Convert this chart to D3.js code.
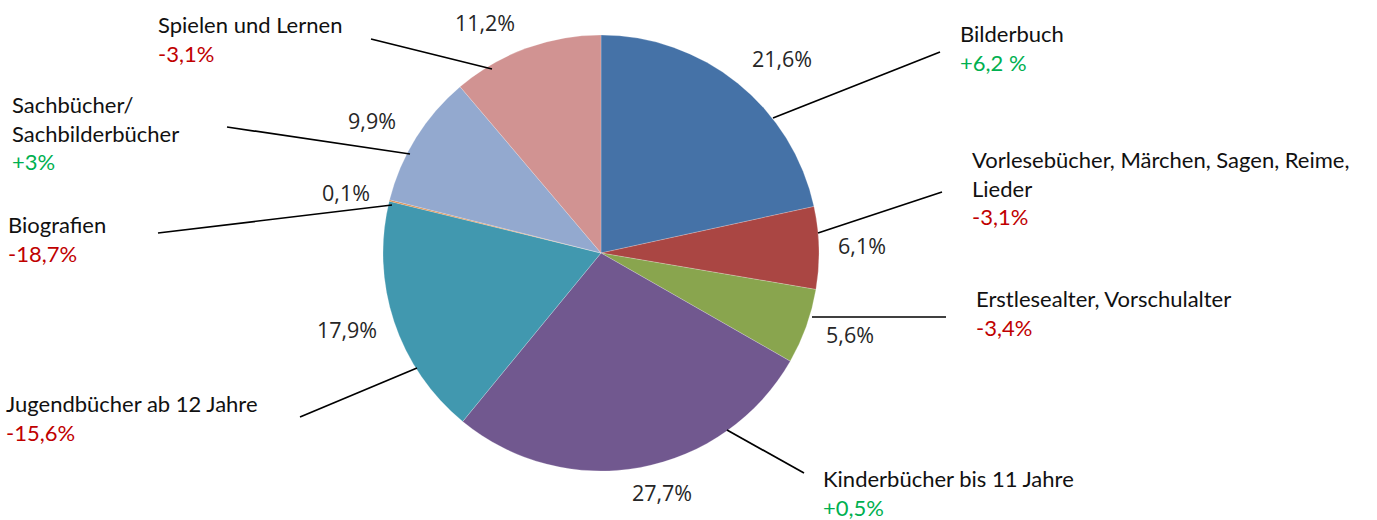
<!DOCTYPE html>
<html>
<head>
<meta charset="utf-8">
<script src="https://cdn.jsdelivr.net/npm/d3@7"></script>
<style>
  body { margin: 0; background: #fff; }
  svg text { font-family: Lato, "Noto Sans", sans-serif; }
</style>
</head>
<body>
<div id="chart"></div>
<script>
// data
const categories = ["Bilderbuch", "Vorlesebücher, Märchen, Sagen, Reime, Lieder", "Erstlesealter, Vorschulalter",
  "Kinderbücher bis 11 Jahre", "Jugendbücher ab 12 Jahre", "Biografien", "Sachbücher/ Sachbilderbücher", "Spielen und Lernen"];
const shares = [21.6, 6.1, 5.6, 27.7, 17.9, 0.1, 9.9, 11.2];
const shareLabels = ["21,6%", "6,1%", "5,6%", "27,7%", "17,9%", "0,1%", "9,9%", "11,2%"];
const changes = [6.2, -3.1, -3.4, 0.5, -15.6, -18.7, 3, -3.1];
const changeLabels = ["+6,2 %", "-3,1%", "-3,4%", "+0,5%", "-15,6%", "-18,7%", "+3%", "-3,1%"];
const nameLines = [["Bilderbuch"], ["Vorlesebücher, Märchen, Sagen, Reime,", "Lieder"], ["Erstlesealter, Vorschulalter"],
  ["Kinderbücher bis 11 Jahre"], ["Jugendbücher ab 12 Jahre"], ["Biografien"], ["Sachbücher/", "Sachbilderbücher"], ["Spielen und Lernen"]];
const colors = ["#4572A7", "#AA4643", "#89A54E", "#71588F", "#4198AF", "#DB843D", "#93A9CF", "#D19392"];

// layout of annotations (label block, leader line, percent label)
const layout = [
  { tx: 960, ty: 42, line: [[940, 52], [773, 118]], px: 782, py: 61 },
  { tx: 972, ty: 168, line: [[942, 192], [818, 233]], px: 862, py: 248 },
  { tx: 976, ty: 307, line: [[946, 317], [812, 317]], px: 850, py: 337 },
  { tx: 823, ty: 487, line: [[804, 473], [727, 430]], px: 662, py: 495 },
  { tx: 6, ty: 412, line: [[300, 417], [417, 368]], px: 347, py: 332 },
  { tx: 8, ty: 233, line: [[158, 233], [392, 205]], px: 346, py: 195 },
  { tx: 12, ty: 113, line: [[227, 127], [410, 154]], px: 372, py: 123 },
  { tx: 158, ty: 33, line: [[371, 39], [492, 69]], px: 485, py: 25 }
];

const width = 1377, height = 520;
const cx = 601, cy = 253, radius = 218;
const lineH = 28.5;

const svg = d3.select("#chart").append("svg")
  .attr("width", width).attr("height", height);

const rows = categories.map((c, i) => ({ name: c, share: shares[i], i: i }));

const pie = d3.pie().sort(null).value(d => d.share);
const arc = d3.arc().innerRadius(0).outerRadius(radius);

const g = svg.append("g").attr("transform", `translate(${cx},${cy})`);
g.selectAll("path")
  .data(pie(rows))
  .join("path")
  .attr("d", arc)
  .attr("fill", d => colors[d.data.i])
  .attr("stroke", "rgba(255,255,255,0.35)")
  .attr("stroke-width", 0.6);

// leader lines
svg.selectAll("line.leader")
  .data(layout)
  .join("line")
  .attr("class", "leader")
  .attr("x1", d => d.line[0][0]).attr("y1", d => d.line[0][1])
  .attr("x2", d => d.line[1][0]).attr("y2", d => d.line[1][1])
  .attr("stroke", "#000").attr("stroke-width", 1.7);

// percent labels
svg.selectAll("text.pct")
  .data(rows)
  .join("text")
  .attr("class", "pct")
  .attr("x", d => layout[d.i].px)
  .attr("y", d => layout[d.i].py)
  .attr("text-anchor", "middle")
  .attr("dominant-baseline", "middle")
  .style("font-family", "'Open Sans', sans-serif")
  .style("font-size", "21.5px")
  .attr("fill", "#262626")
  .text(d => shareLabels[d.i]);

// category labels with change
rows.forEach(d => {
  const L = layout[d.i];
  const t = svg.append("text")
    .attr("x", L.tx).attr("y", L.ty)
    .style("font-size", "22px");
  nameLines[d.i].forEach((s, k) => {
    t.append("tspan").attr("x", L.tx).attr("y", L.ty + k * lineH).attr("fill", "#111").text(s);
  });
  t.append("tspan")
    .attr("x", L.tx)
    .attr("y", L.ty + nameLines[d.i].length * lineH)
    .attr("fill", changes[d.i] >= 0 ? "#00B050" : "#C00000")
    .text(changeLabels[d.i]);
});
</script>
</body>
</html>
